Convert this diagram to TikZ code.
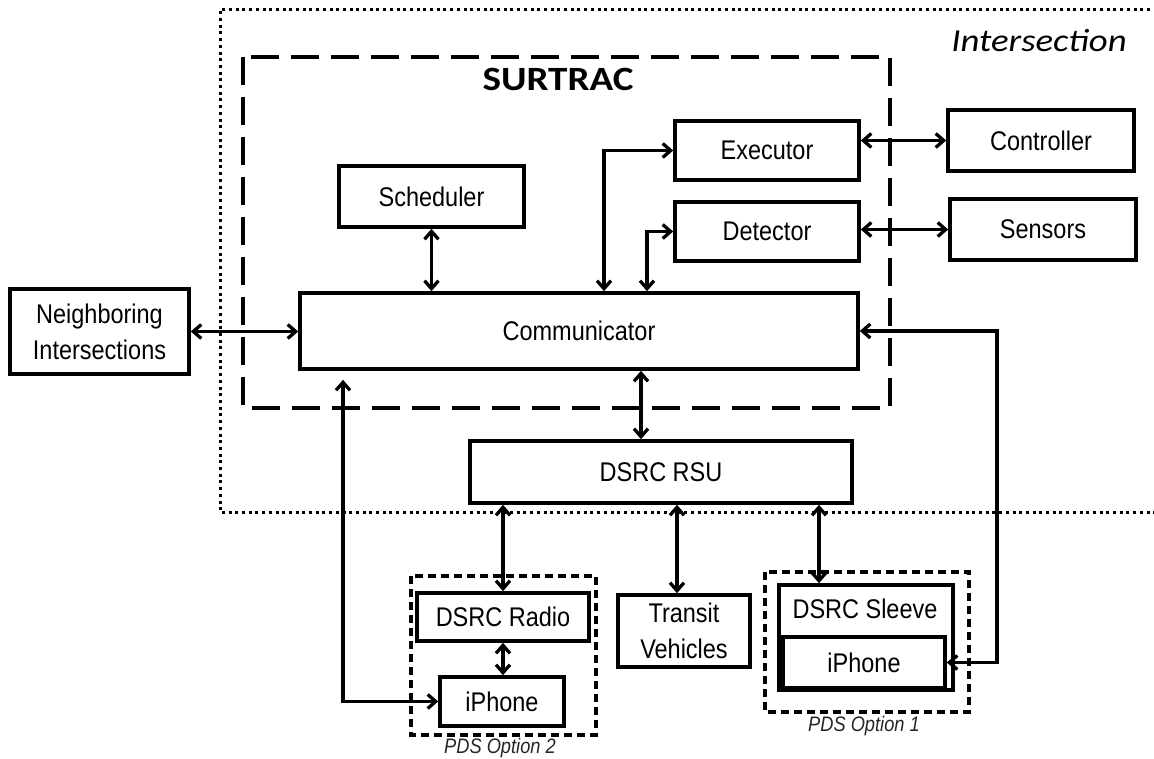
\documentclass[tikz,border=0pt]{standalone}
\usepackage{fontspec}
\setmainfont{Liberation Sans}[FakeStretch=0.87]
\newfontfamily\titlefont{Carlito}[FakeStretch=1.15]
\usetikzlibrary{arrows.meta}

\begin{document}
\begin{tikzpicture}[x=1pt,y=-1pt,
  box/.style={draw, line width=3.6pt, inner sep=0pt, align=center,
              font=\fontsize{27}{36}\selectfont},
  plain/.style={inner sep=0pt, align=center, font=\fontsize{27}{36}\selectfont},
  conn/.style={line width=3.3pt,
               {Straight Barb[length=8pt,width=14pt]}-{Straight Barb[length=8pt,width=14pt]}},
  region/.style={line width=3pt, dash pattern=on 3pt off 3.7pt},
  system/.style={line width=3.8pt, dash pattern=on 28pt off 12pt},
  option/.style={line width=3.4pt, dash pattern=on 8pt off 5pt},
  caption/.style={inner sep=0pt, text=black!85, font=\itshape\fontsize{21}{25}\selectfont}
]
\useasboundingbox (0,0) rectangle (1154,759);

% intersection boundary (open to the right)
\draw[region] (1170,10) -- (220,10) -- (220,512) -- (1170,512);
\node[inner sep=0pt] (intlabel) at (1039,41) {\titlefont\itshape\fontsize{32}{38}\selectfont Intersection};

% SURTRAC boundary
\draw[system] (243,57) rectangle (890,408);
\node[inner sep=0pt] (surtrac) at (558,79) {\titlefont\bfseries\fontsize{34}{40}\selectfont SURTRAC};

% SURTRAC modules
\node[box, minimum width=185, minimum height=61] (sched) at (431.5,196.5) {Scheduler};
\node[box, minimum width=184, minimum height=59] (exec) at (767,150.5) {Executor};
\node[box, minimum width=184, minimum height=59] (detect) at (767,231.5) {Detector};
\node[box, minimum width=558, minimum height=76] (comm) at (579,331) {Communicator};

% field equipment
\node[box, minimum width=186, minimum height=61] (ctrl) at (1041,140.5) {Controller};
\node[box, minimum width=186, minimum height=61] (sens) at (1043,229.5) {Sensors};
\node[box, minimum width=179, minimum height=85] (neigh) at (99.5,331.5) {Neighboring\\Intersections};
\node[box, minimum width=382, minimum height=62] (rsu) at (661,472) {DSRC RSU};

% PDS option 2
\draw[option] (411,576) rectangle (596,735);
\node[box, minimum width=172, minimum height=48] (radio) at (503,617) {DSRC Radio};
\node[box, minimum width=124, minimum height=49] (iph2) at (502,701.5) {iPhone};
\node[caption] (pds2) at (500,748) {PDS Option 2};

% transit vehicles
\node[box, minimum width=132, minimum height=72] (transit) at (684,631) {Transit\\Vehicles};

% PDS option 1
\draw[option] (765,572) rectangle (969,712);
\node[box, minimum width=174, minimum height=105] (sleeve) at (866,637.5) {};
\node[plain] (sleevetxt) at (865,609) {DSRC Sleeve};
\node[box, minimum width=162, minimum height=51] (iph1) at (864,662.5) {iPhone};
\node[caption] (pds1) at (864,726) {PDS Option 1};

% routing columns
\coordinate (xexec) at (604,0);
\coordinate (xdet) at (647,0);
\coordinate (xrsu) at (641,0);
\coordinate (xtransit) at (677,0);
\coordinate (xsleeve) at (819,0);
\coordinate (xleft) at (343,0);
\coordinate (xright) at (997,0);

% connectors
\draw[conn] (sched.south) -- (sched.south |- comm.north);
\draw[conn] (exec.west) -| (xexec |- comm.north);
\draw[conn] (detect.west) -| (xdet |- comm.north);
\draw[conn] (exec.east |- ctrl.west) -- (ctrl.west);
\draw[conn] (detect.east |- sens.west) -- (sens.west);
\draw[conn] (neigh.east) -- (neigh.east -| comm.west);
\draw[conn] (xrsu |- comm.south) -- (xrsu |- rsu.north);
\draw[conn] (radio.north |- rsu.south) -- (radio.north);
\draw[conn] (xtransit |- rsu.south) -- (xtransit |- transit.north);
\draw[conn] (xsleeve |- rsu.south) -- (xsleeve |- sleeve.north);
\draw[conn] (radio.south) -- (radio.south |- iph2.north);
\draw[conn, shorten >=9pt] (iph2.west) -| (xleft |- comm.south);
\draw[conn] (iph1.east) -- (xright |- iph1.east) -- (xright |- comm.east) -- (comm.east);
\end{tikzpicture}
\end{document}
